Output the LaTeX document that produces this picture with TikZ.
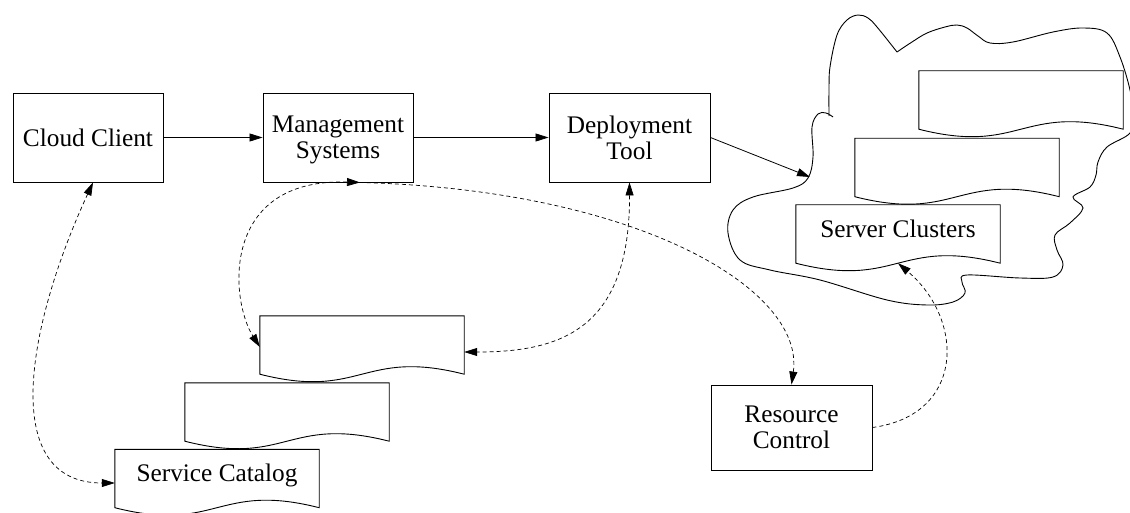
\documentclass[tikz,border=0pt]{standalone}
\usepackage{fontspec}
\setmainfont{Liberation Serif}
\newfontfamily\tmsfont{Liberation Serif}
\usetikzlibrary{arrows.meta,calc}
\newcommand\docoutline[1]{\draw[docline] (#1.south west) -- (#1.north west) -- (#1.north east) -- (#1.south east) .. controls ($(#1.south)+(0,-26)$) and ($(#1.south)+(0,26)$) .. (#1.south west) -- cycle;}
\begin{document}
\begin{tikzpicture}[x=1pt,y=-1pt,
  every node/.style={font=\tmsfont\fontsize{25.3}{26}\selectfont},
  box/.style={draw, line width=0.9pt, align=center, inner sep=0pt},
  docnode/.style={minimum width=204pt, minimum height=58pt, inner sep=0pt, text height=18pt, text depth=12pt},
  docline/.style={line width=0.9pt},
  cloudline/.style={line width=0.9pt},
  arr/.style={-{Triangle[length=13pt,width=8pt]}, line width=0.8pt},
  dashln/.style={dash pattern=on 4pt off 3pt, line width=0.7pt},
  darr/.style={dashln, {Triangle[length=13pt,width=8pt]}-{Triangle[length=13pt,width=8pt]}},
  dsarr/.style={dashln, -{Triangle[length=13pt,width=8pt]}}
]
\useasboundingbox (0,0) rectangle (1130,513);

% cloud
\draw[cloudline] plot[smooth, tension=0.6] coordinates {(829,116) (829,90) (830,67) (837,35) (847,20) (858,15) (868,18) (877,27) (897,52)}
  plot[smooth, tension=0.6] coordinates {(897,52) (912,42) (927,33) (945,27) (957,25) (967,28) (978,36) (990,43) (1013,42) (1053,32) (1083,28) (1107,33) (1120,57) (1130,90) (1133,115) (1130,133) (1107,147) (1098,162) (1096,175) (1090,187) (1073,197) (1083,208) (1070,223) (1055,235) (1057,250) (1063,265) (1053,277) (1020,278) (967,275) (962,282) (965,293) (953,302) (927,305) (887,300) (820,280) (770,270) (740,260) (728,233) (733,210) (753,197) (793,188) (808,178) (813,157) (812,127) (818,114) (826,113) (833,117)};

% boxes
\node[box, minimum width=150pt, minimum height=89pt] (cc) at (88,137.5) {Cloud Client};
\node[box, minimum width=150pt, minimum height=89pt, text depth=0pt] (ms) at (338,137.5) {Management\\Systems};
\node[box, minimum width=161pt, minimum height=89pt] (dt) at (629.5,137.5) {Deployment\\Tool};
\node[box, minimum width=161pt, minimum height=85pt] (rc) at (791.5,427.5) {Resource\\Control};

% documents
\node[docnode] (d3) at (1021,100) {};
\node[docnode] (d2) at (957,167.5) {};
\node[docnode] (sv) at (898,234) {Server Clusters};
\node[docnode] (da) at (362,345) {};
\node[docnode] (db) at (287,412) {};
\node[docnode] (sc) at (217,478.5) {Service Catalog};
\docoutline{d3}
\docoutline{d2}
\docoutline{sv}
\docoutline{da}
\docoutline{db}
\docoutline{sc}

\coordinate (cloudin) at (810,177);

% solid arrows
\draw[arr] (cc.east) -- (ms.west);
\draw[arr] (ms.east) -- (dt.west);
\draw[arr] (dt.east) -- (cloudin);

% dashed arrows
\draw[darr] ([xshift=5pt]cc.south) .. controls (25,330) and (0,483) .. ([yshift=-4.5pt]sc.west);
\draw[darr] ([xshift=22pt]ms.south) .. controls (220,178) and (230,300) .. ([yshift=-2pt]da.west);
\draw[dsarr] ([xshift=22pt]ms.south) .. controls (640,190) and (805,290) .. (rc.north);
\draw[darr] (dt.south) .. controls (630,330) and (560,352) .. ([yshift=-7pt]da.east);
\draw[dsarr] (rc.east) .. controls (965,415) and (965,320) .. (sv.south);
\end{tikzpicture}
\end{document}
